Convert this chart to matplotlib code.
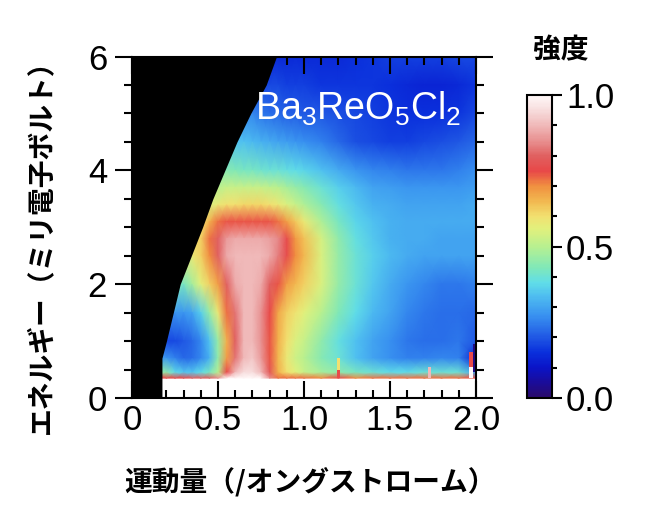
import numpy as np
import matplotlib
matplotlib.use('Agg')
import matplotlib.pyplot as plt
from matplotlib.colors import LinearSegmentedColormap, Normalize
from matplotlib.ticker import MultipleLocator, FixedLocator

plt.rcParams['font.family'] = ['Liberation Sans', 'Noto Sans CJK JP']
plt.rcParams['mathtext.fontset'] = 'custom'
plt.rcParams['mathtext.rm'] = 'Liberation Sans'
plt.rcParams['mathtext.it'] = 'Liberation Sans:italic'

# momentum grid (1/A) and energy grid (meV) for intensity
q_nodes = [0.15, 0.2, 0.25, 0.3, 0.35, 0.4, 0.45, 0.5, 0.55, 0.6, 0.65, 0.7, 0.75, 0.8,
           0.85, 0.9, 0.95, 1.0, 1.1, 1.2, 1.3, 1.4, 1.5, 1.6, 1.7, 1.8, 1.9, 2.0]
e_nodes = [6.0, 5.5, 5.0, 4.5, 4.0, 3.7, 3.4, 3.1, 2.8, 2.5, 2.0, 1.5, 1.0, 0.7, 0.45, 0.35]

intensity = [
    # E = 6.0
    [.14, .14, .14, .14, .14, .14, .14, .14, .14, .14, .14, .14, .14, .14,
     .14, .14, .14, .14, .14, .14, .15, .16, .17, .17, .17, .17, .18, .18],
    # E = 5.5
    [.18, .18, .18, .18, .18, .18, .18, .18, .18, .18, .18, .18, .18, .18,
     .18, .17, .17, .17, .16, .16, .16, .16, .15, .14, .13, .13, .14, .16],
    # E = 5.0
    [.26, .26, .26, .26, .26, .26, .26, .26, .26, .26, .26, .26, .24, .23,
     .22, .21, .21, .20, .20, .19, .18, .17, .16, .15, .15, .15, .16, .18],
    # E = 4.5
    [.34, .34, .34, .34, .34, .34, .34, .34, .34, .34, .34, .33, .32, .31,
     .30, .29, .28, .27, .25, .22, .19, .18, .17, .17, .18, .19, .20, .22],
    # E = 4.0
    [.44, .44, .44, .44, .44, .44, .44, .44, .44, .43, .42, .42, .41, .40,
     .40, .39, .38, .37, .34, .31, .28, .26, .25, .24, .24, .24, .25, .27],
    # E = 3.7
    [.50, .50, .50, .50, .50, .50, .50, .50, .52, .52, .52, .52, .52, .51,
     .50, .48, .46, .44, .40, .36, .33, .30, .29, .28, .28, .28, .28, .29],
    # E = 3.4
    [.55, .55, .55, .55, .55, .55, .55, .58, .60, .60, .61, .61, .61, .60,
     .58, .55, .52, .49, .44, .39, .35, .32, .31, .30, .30, .30, .30, .31],
    # E = 3.1
    [.60, .60, .60, .60, .60, .60, .66, .72, .74, .74, .74, .74, .74, .74,
     .72, .68, .63, .58, .49, .42, .37, .34, .32, .31, .31, .31, .31, .31],
    # E = 2.8
    [.62, .62, .62, .62, .62, .62, .72, .80, .86, .88, .88, .88, .88, .87,
     .84, .76, .69, .64, .54, .45, .39, .35, .32, .31, .31, .30, .30, .30],
    # E = 2.5
    [.58, .58, .58, .58, .58, .62, .70, .80, .88, .90, .90, .90, .90, .88,
     .83, .76, .70, .65, .55, .46, .40, .36, .33, .31, .30, .30, .30, .30],
    # E = 2.0
    [.42, .42, .42, .42, .48, .56, .62, .68, .80, .88, .90, .90, .88, .80,
     .74, .68, .65, .62, .55, .46, .40, .35, .31, .28, .26, .24, .24, .25],
    # E = 1.5
    [.28, .28, .28, .28, .30, .36, .46, .58, .72, .82, .90, .90, .85, .75,
     .67, .62, .59, .56, .50, .43, .38, .33, .30, .26, .24, .23, .23, .22],
    # E = 1.0
    [.18, .18, .18, .20, .22, .26, .34, .46, .66, .80, .90, .90, .85, .74,
     .66, .60, .55, .52, .45, .39, .34, .30, .27, .24, .23, .23, .24, .20],
    # E = 0.7
    [.30, .28, .25, .22, .23, .26, .32, .45, .68, .82, .90, .92, .86, .74,
     .65, .58, .53, .50, .44, .40, .34, .30, .27, .25, .25, .26, .25, .12],
    # E = 0.45
    [.45, .45, .38, .35, .35, .38, .42, .50, .75, .90, .95, .95, .90, .78,
     .66, .60, .56, .52, .48, .45, .42, .40, .38, .38, .40, .40, .40, .30],
    # E = 0.35 (elastic line edge)
    [.75, .75, .75, .75, .80, .80, .80, .85, 1.0, 1.0, 1.0, 1.0, 1.0, .85,
     .72, .72, .72, .72, .70, .75, .70, .72, .72, .72, .72, .72, .72, .75],
]

# edge of the measured region (kinematic limit)
edge_e = [6.0, 5.5, 5.0, 4.5, 4.0, 3.5, 3.0, 2.5, 2.0, 1.5, 1.0, 0.7, 0.0]
edge_q = [0.84, 0.78, 0.69, 0.61, 0.54, 0.47, 0.41, 0.345, 0.28, 0.24, 0.20, 0.174, 0.174]

# narrow spurious columns above the elastic line
spur_q = [1.20, 1.20, 1.73, 1.97, 1.97, 1.99]
spur_bottom = [0.35, 0.5, 0.35, 0.35, 0.55, 0.45]
spur_top = [0.5, 0.7, 0.55, 0.55, 0.8, 0.95]
spur_val = [0.75, 0.6, 0.9, 1.0, 0.75, 0.03]

cmap_stops = [(0.0, '#2a0a6a'), (0.05, '#1a0c9a'), (0.1, '#0a14c8'), (0.15, '#0a30dc'),
              (0.2, '#2058e4'), (0.27, '#3890f0'), (0.34, '#50c0f0'), (0.38, '#60dde8'),
              (0.43, '#80e8b8'), (0.5, '#b8f090'), (0.56, '#e2f07c'), (0.6, '#f2e070'),
              (0.65, '#f2b850'), (0.7, '#f09040'), (0.75, '#e84848'), (0.8, '#e06060'),
              (0.85, '#e89090'), (0.9, '#f0b8b8'), (0.96, '#f8e2e2'), (1.0, '#fff8f8')]
cmap = LinearSegmentedColormap.from_list('inten', cmap_stops)
norm = Normalize(0, 1)

fig = plt.figure(figsize=(6.5, 5.19), dpi=100)
ax = fig.add_axes([0.2031, 0.2331, 0.5292, 0.658])

Q, E = np.meshgrid(q_nodes, e_nodes)
mesh = ax.pcolormesh(Q, E, np.array(intensity), cmap=cmap, norm=norm, shading='gouraud')

for q, b, t, v in zip(spur_q, spur_bottom, spur_top, spur_val):
    ax.bar(q, t - b, bottom=b, width=0.02, color=cmap(norm(v)), linewidth=0)

ax.fill_betweenx(edge_e, 0, edge_q, color='black', linewidth=0)

ax.text(0.715, 4.89, r'Ba$_3$ReO$_5$Cl$_2$', color='white', fontsize=27)

ax.set_xlim(0, 2.0)
ax.set_ylim(0, 6)
ax.xaxis.set_major_locator(FixedLocator([0, 0.5, 1.0, 1.5, 2.0]))
ax.set_xticklabels(['0', '0.5', '1.0', '1.5', '2.0'])
ax.xaxis.set_minor_locator(MultipleLocator(0.1))
ax.yaxis.set_major_locator(MultipleLocator(2))
ax.yaxis.set_minor_locator(MultipleLocator(0.5))
ax.tick_params(axis='x', which='both', direction='in', top=True, bottom=True, width=1.5,
               labelsize=25, pad=4)
ax.tick_params(axis='x', which='major', length=12)
ax.tick_params(axis='x', which='minor', length=6)
ax.tick_params(axis='y', which='both', direction='out', left=True, right=True, width=1.5,
               labelsize=25, pad=6)
ax.tick_params(axis='y', which='major', length=12)
ax.tick_params(axis='y', which='minor', length=6)
for s in ax.spines.values():
    s.set_linewidth(1.5)
ax.set_axisbelow(False)

cax = fig.add_axes([0.8108, 0.2331, 0.0385, 0.5838])
cb = fig.colorbar(mesh, cax=cax, ticks=[0, 0.5, 1.0])
cb.ax.set_yticklabels(['0.0', '0.5', '1.0'])
cb.ax.yaxis.set_minor_locator(MultipleLocator(0.1))
cb.ax.tick_params(which='both', direction='out', width=1.5, labelsize=25, pad=3)
cb.ax.tick_params(which='major', length=7)
cb.ax.tick_params(which='minor', length=3.5)
cb.outline.set_linewidth(1.5)

jp = ['Noto Sans CJK JP', 'DejaVu Sans']
fig.text(310 / 650, 1 - 482 / 519, '運動量（/オングストローム）', family=jp, fontsize=20,
         fontweight='bold', ha='center', va='center')
fig.text(41 / 650, 1 - 240 / 519, 'エネルギー（ミリ電子ボルト）', family=jp, fontsize=20,
         fontweight='bold', ha='center', va='center', rotation=90)
fig.text(561 / 650, 1 - 50 / 519, '強度', family=jp, fontsize=20,
         fontweight='bold', ha='center', va='center')

fig.savefig('out.png', dpi=100)
